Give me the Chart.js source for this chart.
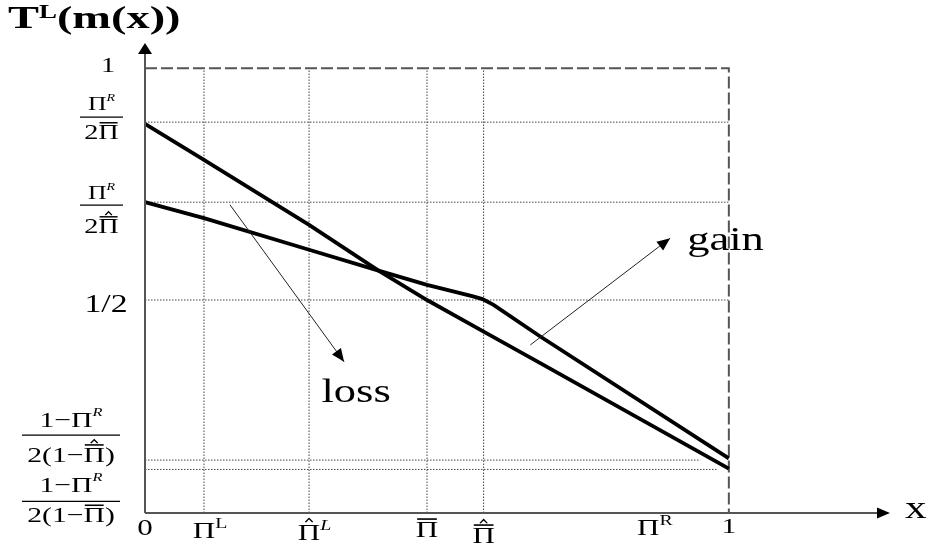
<!DOCTYPE html>
<html><head><meta charset="utf-8">
<script src="https://cdn.jsdelivr.net/npm/chart.js@4/dist/chart.umd.min.js"></script>
<style>html,body{margin:0;padding:0;background:#fff}#wrap{width:932px;height:552px;position:relative}canvas{display:block}</style>
</head><body><div id="wrap"><canvas id="c" width="932" height="552"></canvas></div>
<script>
// ---------- data ----------
const X_MAX = 1.276, Y_MAX = 1.057;
const lineAx = [0, 0.101, 0.281, 0.40, 0.483, 0.58, 0.677, 1];
const lineAy = [0.875, 0.794, 0.648, 0.545, 0.479, 0.408, 0.337, 0.100];
const lineBx = [0, 0.101, 0.281, 0.40, 0.483, 0.562, 0.578, 0.597, 0.677, 1];
const lineBy = [0.699, 0.663, 0.592, 0.545, 0.513, 0.487, 0.481, 0.468, 0.397, 0.123];
const xGuideValues = [0.101, 0.281, 0.483, 0.580];
const yGuideValues = [0.879, 0.699, 0.479, 0.119, 0.098];
const yGuideEnds  = [1, 1, 1, 0.951, 0.979];
const xTickValues = [0, 0.101, 0.281, 0.483, 0.580, 0.862, 1];
const xTickLabels = ['0', 'Π^L', '~Π`L', '¯Π', '≈Π', 'Π^R', '1'];
const yTickValues = [1, 0.879, 0.699, 0.479, 0.119, 0.098];
const yTickNum = ['1', 'Π`R', 'Π`R', '1/2', '1−Π`R', '1−Π`R'];
const yTickDen = ['', '2¯Π', '2≈Π', '', '2(1−≈Π)', '2(1−¯Π)'];
const titleText = 'T^L(m(x))';
const xAxisText = 'x';
const lossArrow = [[0.1456, 0.693], [0.341, 0.340]];
const gainArrow = [[0.660, 0.378], [0.8994, 0.618]];
const lossText = ['loss', 0.3615, 0.2497];
const gainText = ['gain', 0.9286, 0.5917];

// ---------- style ----------
const SERIF = '"Liberation Serif","Times New Roman",serif';
const SX = 1.35;
const xLabelDy = [22, 25, 27, 24, 30, 22, 20];
const xLabelSize = [23, 23, 23, 23, 23, 23, 22];
const yLabelStyle = [
  {cx:108, dy:3.5, size:21},
  {cx:101.5, dy:-5, l:80, r:123, ns:19, ds:21, nd:-7, dd:22},
  {cx:101.5, dy:3, l:80, r:123, ns:19, ds:21, nd:-6, dd:28},
  {cx:106, dy:12, size:25},
  {cx:71, dy:-25, l:22, r:120, ns:22, ds:22, nd:-8, dd:27},
  {cx:71, dy:32, l:22, r:120, ns:22, ds:22, nd:-9, dd:21}
];

function parseRich(str, size, supScale, supRise){
  const items = [];
  for (let i = 0; i < str.length; i++) {
    const c = str[i];
    if (c === '^' || c === '`') items.push({t:str[++i], size:size*supScale, italic:c==='`', rise:size*supRise});
    else if (c === '¯' || c === '~' || c === '≈') items.push({t:str[++i], size, deco:c});
    else items.push({t:c, size});
  }
  return items;
}
function richFont(it, bold){ return (it.italic?'italic ':'') + (bold?'bold ':'') + it.size + 'px ' + SERIF; }
function drawRich(ctx, str, ax, by, size, opts){
  opts = opts || {};
  const bold = !!opts.bold, sx = opts.sx || SX;
  const items = parseRich(str, size, opts.supScale || 0.6, opts.supRise || 0.42);
  let w = 0;
  items.forEach(it => { ctx.font = richFont(it, bold); it.w = ctx.measureText(it.t).width; it.x = w; w += it.w; });
  let x0;
  if (opts.align === 'left') x0 = 0;
  else if (opts.align === 'first') x0 = -items[0].w/2;
  else if (opts.align === 'right') x0 = -w;
  else x0 = -w/2;
  ctx.save();
  ctx.translate(ax, by); ctx.scale(sx, 1);
  ctx.fillStyle = '#000'; ctx.strokeStyle = '#000';
  ctx.textBaseline = 'alphabetic'; ctx.textAlign = 'left';
  items.forEach(it => {
    ctx.font = richFont(it, bold);
    const x = x0 + it.x;
    ctx.fillText(it.t, x, -(it.rise || 0));
    if (it.deco) {
      const s = it.size, l = x + it.w*0.06, r = x + it.w*0.94, m = (l + r)/2;
      let top = -s*0.70;
      if (it.deco !== '~') {
        const yb = -s*0.78;
        ctx.lineWidth = s*0.07;
        ctx.beginPath(); ctx.moveTo(l, yb); ctx.lineTo(r, yb); ctx.stroke();
        top = yb;
      }
      if (it.deco !== '¯') {
        const y1 = top - s*0.08, y2 = top - s*0.24;
        ctx.lineWidth = s*0.05;
        ctx.beginPath(); ctx.moveTo(m - it.w*0.16, y1); ctx.lineTo(m, y2); ctx.lineTo(m + it.w*0.16, y1); ctx.stroke();
      }
    }
  });
  ctx.restore();
}
function arrowHead(ctx, x1, y1, x2, y2, len, half){
  const a = Math.atan2(y2 - y1, x2 - x1);
  ctx.beginPath();
  ctx.moveTo(x2, y2);
  ctx.lineTo(x2 - len*Math.cos(a) + half*Math.sin(a), y2 - len*Math.sin(a) - half*Math.cos(a));
  ctx.lineTo(x2 - len*Math.cos(a) - half*Math.sin(a), y2 - len*Math.sin(a) + half*Math.cos(a));
  ctx.closePath(); ctx.fill();
}

const decor = {
  id: 'decor',
  afterDatasetsDraw(chart){
    const ctx = chart.ctx, xs = chart.scales.x, ys = chart.scales.y;
    const X = v => xs.getPixelForValue(v), Y = v => ys.getPixelForValue(v);
    ctx.save();
    // axes
    ctx.strokeStyle = '#555'; ctx.fillStyle = '#000'; ctx.lineWidth = 2;
    ctx.beginPath(); ctx.moveTo(X(0), Y(0)); ctx.lineTo(X(X_MAX) - 8, Y(0)); ctx.stroke();
    ctx.beginPath(); ctx.moveTo(X(0), Y(0)); ctx.lineTo(X(0), Y(Y_MAX) + 8); ctx.stroke();
    arrowHead(ctx, X(0), Y(0), X(X_MAX), Y(0), 13, 5.5);
    arrowHead(ctx, X(0), Y(0), X(0), Y(Y_MAX), 11, 7);
    // annotation arrows
    ctx.strokeStyle = '#222'; ctx.lineWidth = 1;
    [lossArrow, gainArrow].forEach(a => {
      const x1 = X(a[0][0]), y1 = Y(a[0][1]), x2 = X(a[1][0]), y2 = Y(a[1][1]);
      ctx.beginPath(); ctx.moveTo(x1, y1); ctx.lineTo(x2, y2); ctx.stroke();
      arrowHead(ctx, x1, y1, x2, y2, 13, 5.5);
    });
    // x tick labels
    xTickValues.forEach((v, i) => drawRich(ctx, xTickLabels[i], X(v), Y(0) + xLabelDy[i], xLabelSize[i], {align:'first', supScale:0.64, supRise:0.45}));
    // y tick labels
    yTickValues.forEach((v, i) => {
      const st = yLabelStyle[i], py = Y(v) + st.dy;
      if (!yTickDen[i]) { drawRich(ctx, yTickNum[i], st.cx, py, st.size); return; }
      ctx.strokeStyle = '#000'; ctx.lineWidth = 1.3;
      ctx.beginPath(); ctx.moveTo(st.l, py); ctx.lineTo(st.r, py); ctx.stroke();
      drawRich(ctx, yTickNum[i], st.cx, py + st.nd, st.ns, {supScale:0.55, supRise:0.5});
      drawRich(ctx, yTickDen[i], st.cx, py + st.dd, st.ds);
    });
    // titles
    drawRich(ctx, titleText, 8, 28, 32, {align:'left', bold:true, supScale:0.58, supRise:0.3, sx:1.45});
    drawRich(ctx, xAxisText, 905, 518, 32, {align:'left'});
    drawRich(ctx, lossText[0], X(lossText[1]), Y(lossText[2]), 33, {});
    drawRich(ctx, gainText[0], X(gainText[1]), Y(gainText[2]), 33, {align:'left'});
    ctx.restore();
  }
};

const pts = (xa, ya) => xa.map((x, i) => ({x, y: ya[i]}));
const dotted = {borderColor:'#444', borderWidth:1, borderDash:[1.5,1.5], order:3};
const datasets = [
  {data: pts(lineAx, lineAy), borderColor:'#000', borderWidth:3.8, order:0},
  {data: pts(lineBx, lineBy), borderColor:'#000', borderWidth:3.8, order:0}
];
xGuideValues.forEach(v => datasets.push(Object.assign({data:[{x:v,y:0},{x:v,y:1}]}, dotted)));
yGuideValues.forEach((v, i) => datasets.push(Object.assign({data:[{x:0,y:v},{x:yGuideEnds[i],y:v}]}, dotted)));
datasets.push({data:[{x:0,y:1},{x:1,y:1},{x:1,y:0}], borderColor:'#555', borderWidth:2, borderDash:[12,4], order:2});
datasets.forEach(d => Object.assign(d, {showLine:true, pointRadius:0, tension:0, fill:false, clip:false, borderCapStyle:'butt'}));

new Chart(document.getElementById('c'), {
  type: 'scatter',
  data: {datasets},
  options: {
    responsive:false, animation:false, devicePixelRatio:1,
    layout:{padding:{left:145, right:42, top:43, bottom:39}},
    plugins:{legend:{display:false}, tooltip:{enabled:false}},
    events:[],
    scales:{
      x:{type:'linear', min:0, max:X_MAX, display:false},
      y:{type:'linear', min:0, max:Y_MAX, display:false}
    }
  },
  plugins:[decor]
});
</script></body></html>
